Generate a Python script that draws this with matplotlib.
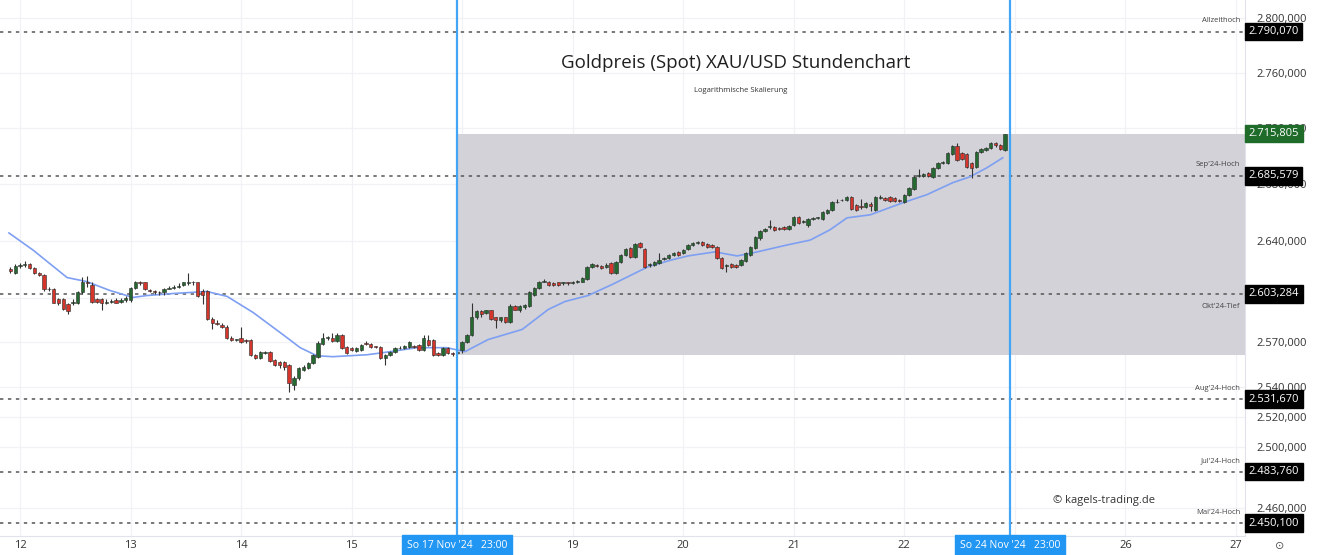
import numpy as np
import matplotlib.pyplot as plt
import matplotlib.transforms as mtransforms

plt.rcParams['font.family'] = ['Open Sans', 'DejaVu Sans']

# -----------------------------
# DATA (hourly candles, weekend collapsed, 23 bars per session)
# -----------------------------
opens = [
    2620.5, 2617.8, 2622.6, 2623.3, 2624.0, 2621.2, 2617.8, 2616.4, 2606.2, 2606.8,
    2599.3, 2599.3, 2595.9, 2596.6, 2597.2, 2604.1, 2611.0, 2609.6, 2599.3, 2599.3,
    2597.2, 2597.9, 2598.6, 2597.9, 2598.6, 2598.6, 2607.5, 2611.0, 2611.0, 2605.5,
    2604.8, 2604.4, 2604.1, 2606.8, 2607.5, 2608.2, 2609.6, 2610.3, 2611.0, 2611.0,
    2604.8, 2604.8, 2585.6, 2583.5, 2581.5, 2580.8, 2573.3, 2571.9, 2573.3, 2571.9,
    2571.9, 2561.6, 2559.6, 2563.0, 2563.7, 2558.2, 2556.8, 2556.8, 2554.8, 2541.1,
    2545.9, 2551.4, 2552.7, 2556.1, 2560.3, 2569.2, 2573.3, 2573.3, 2571.2, 2575.3,
    2567.1, 2566.4, 2564.4, 2565.1, 2569.2, 2569.2, 2567.1, 2567.1, 2559.6, 2561.6,
    2563.7, 2566.4, 2566.4, 2567.1, 2567.8, 2568.5, 2565.1, 2571.9, 2571.9, 2563.0,
    2561.6, 2566.4, 2562.6,
    # week 18.-22. Nov
    2563.0, 2565.1, 2570.5, 2575.3, 2587.0, 2591.1, 2589.7, 2591.8, 2587.0, 2584.9,
    2587.0, 2584.2, 2594.5, 2592.4, 2593.8, 2594.5, 2602.7, 2607.5, 2611.6, 2611.6,
    2610.3, 2611.0, 2610.3, 2611.0, 2610.6, 2611.0, 2611.6, 2613.7, 2621.9, 2623.3,
    2622.6, 2621.9, 2624.6, 2617.8, 2625.3, 2630.1, 2634.9, 2628.8, 2638.3, 2634.2,
    2623.3, 2623.3, 2624.6, 2627.4, 2628.1, 2630.1, 2632.2, 2631.5, 2634.2, 2637.0,
    2638.6, 2639.0, 2637.7, 2637.0, 2635.6, 2628.1, 2622.6, 2624.0, 2623.3, 2623.3,
    2626.0, 2630.1, 2634.9, 2641.8, 2646.8, 2649.6, 2649.6, 2648.9, 2649.6, 2648.2,
    2651.0, 2656.7, 2653.1, 2651.0, 2655.3, 2656.0, 2655.3, 2659.5, 2661.6, 2667.3,
    2668.4, 2668.7, 2670.8, 2665.2, 2664.5, 2663.8, 2665.9, 2661.6, 2670.1, 2670.1,
    2670.8, 2670.1, 2668.7, 2667.3, 2672.3, 2676.5, 2685.7, 2685.7, 2687.8, 2685.0,
    2691.4, 2694.9, 2694.9, 2701.3, 2707.0, 2702.0, 2701.3, 2694.9, 2692.1, 2702.7,
    2704.1, 2705.5, 2709.1, 2707.7, 2704.1,
]
highs = [
    2621.9, 2624.0, 2624.6, 2626.0, 2624.6, 2621.9, 2618.5, 2617.1, 2608.2, 2607.5,
    2600.0, 2600.0, 2596.6, 2599.3, 2604.8, 2615.1, 2615.7, 2611.0, 2600.0, 2600.0,
    2599.3, 2599.3, 2600.0, 2600.0, 2601.4, 2608.2, 2612.3, 2612.3, 2611.6, 2606.8,
    2605.5, 2604.8, 2607.5, 2608.9, 2609.6, 2610.3, 2611.6, 2617.8, 2612.3, 2611.6,
    2606.2, 2605.5, 2587.0, 2584.9, 2582.9, 2581.5, 2574.0, 2572.6, 2580.8, 2572.6,
    2572.6, 2562.3, 2564.4, 2564.4, 2564.4, 2558.9, 2557.5, 2557.5, 2555.5, 2547.2,
    2553.4, 2554.8, 2556.8, 2562.3, 2571.2, 2576.7, 2574.6, 2576.7, 2576.7, 2576.0,
    2567.8, 2567.1, 2567.1, 2569.2, 2571.2, 2569.9, 2567.8, 2567.8, 2562.3, 2564.4,
    2567.1, 2567.8, 2568.5, 2571.2, 2568.5, 2569.2, 2575.3, 2575.3, 2572.6, 2563.7,
    2567.1, 2567.1, 2563.3,
    # week 18.-22. Nov
    2565.1, 2571.2, 2576.0, 2597.2, 2592.4, 2592.4, 2592.4, 2592.4, 2587.6, 2587.6,
    2587.6, 2595.9, 2595.2, 2595.2, 2595.9, 2604.8, 2608.2, 2612.3, 2613.7, 2612.3,
    2611.0, 2611.6, 2611.6, 2611.6, 2612.3, 2613.0, 2615.1, 2622.6, 2624.6, 2624.0,
    2623.3, 2624.6, 2625.3, 2626.0, 2630.8, 2634.9, 2635.6, 2638.3, 2639.0, 2634.9,
    2624.6, 2626.0, 2631.5, 2628.8, 2630.8, 2632.2, 2632.9, 2634.2, 2637.7, 2639.0,
    2639.7, 2639.7, 2638.3, 2637.7, 2636.3, 2628.8, 2624.0, 2624.6, 2624.0, 2627.4,
    2632.2, 2636.3, 2643.2, 2647.5, 2648.9, 2654.6, 2650.3, 2649.6, 2650.3, 2651.0,
    2657.4, 2657.4, 2654.6, 2656.0, 2656.7, 2656.7, 2660.9, 2662.4, 2668.0, 2669.4,
    2669.4, 2671.6, 2671.6, 2665.9, 2669.4, 2667.3, 2667.3, 2671.6, 2672.3, 2670.8,
    2671.6, 2670.8, 2669.4, 2673.0, 2677.9, 2685.7, 2690.7, 2687.8, 2688.5, 2692.1,
    2695.6, 2696.3, 2702.7, 2707.7, 2709.1, 2702.7, 2702.0, 2695.6, 2703.4, 2705.5,
    2706.2, 2709.8, 2709.8, 2708.4, 2715.8,
]
lows = [
    2617.8, 2617.1, 2621.2, 2621.9, 2620.5, 2617.1, 2615.7, 2604.8, 2604.8, 2596.6,
    2595.2, 2591.8, 2589.0, 2595.2, 2595.9, 2603.4, 2608.2, 2596.6, 2596.6, 2592.4,
    2595.9, 2596.6, 2596.6, 2597.2, 2597.9, 2597.9, 2606.8, 2609.6, 2605.5, 2604.1,
    2603.4, 2602.7, 2602.7, 2606.2, 2606.8, 2607.5, 2608.9, 2609.6, 2609.6, 2600.7,
    2595.9, 2584.9, 2578.8, 2581.5, 2580.1, 2572.6, 2571.2, 2571.2, 2569.9, 2569.9,
    2560.9, 2558.9, 2558.9, 2562.3, 2556.8, 2554.1, 2552.7, 2551.4, 2536.3, 2537.7,
    2544.5, 2550.7, 2552.0, 2555.5, 2559.6, 2568.5, 2571.9, 2570.5, 2570.5, 2565.7,
    2562.3, 2564.4, 2563.7, 2564.4, 2568.5, 2566.4, 2566.4, 2558.9, 2554.8, 2560.9,
    2563.0, 2565.7, 2565.7, 2566.4, 2566.4, 2564.4, 2564.4, 2567.8, 2560.9, 2560.9,
    2560.9, 2562.3, 2560.9,
    # week 18.-22. Nov
    2561.6, 2563.0, 2569.9, 2574.6, 2585.6, 2587.6, 2589.0, 2584.9, 2580.1, 2584.2,
    2583.5, 2583.5, 2591.8, 2590.4, 2593.1, 2593.8, 2602.0, 2606.8, 2611.0, 2608.9,
    2608.9, 2608.9, 2609.6, 2609.6, 2610.0, 2610.3, 2611.0, 2613.0, 2621.2, 2621.9,
    2620.5, 2621.2, 2617.1, 2617.1, 2624.6, 2629.4, 2628.1, 2628.1, 2634.9, 2621.2,
    2621.9, 2622.6, 2624.0, 2626.7, 2627.4, 2629.4, 2629.4, 2630.8, 2633.5, 2636.3,
    2638.0, 2636.3, 2634.9, 2634.9, 2627.4, 2620.5, 2618.5, 2621.2, 2621.2, 2622.6,
    2625.3, 2629.4, 2634.2, 2640.4, 2646.1, 2648.2, 2646.8, 2647.5, 2647.5, 2647.5,
    2650.3, 2651.7, 2652.4, 2649.6, 2654.6, 2655.3, 2654.6, 2658.8, 2660.9, 2666.6,
    2668.0, 2668.0, 2661.6, 2660.9, 2662.4, 2663.1, 2660.9, 2660.9, 2669.4, 2668.0,
    2667.3, 2667.3, 2667.3, 2666.6, 2671.6, 2675.8, 2685.0, 2685.0, 2685.0, 2684.3,
    2690.7, 2694.2, 2694.2, 2700.6, 2696.3, 2697.0, 2691.4, 2684.3, 2691.4, 2702.0,
    2703.4, 2704.8, 2706.3, 2704.1, 2703.4,
]
closes = [
    2619.2, 2622.6, 2623.3, 2624.0, 2621.2, 2617.8, 2616.4, 2606.2, 2606.8, 2597.2,
    2597.2, 2593.1, 2591.1, 2597.9, 2604.1, 2611.0, 2610.3, 2597.9, 2597.9, 2597.2,
    2597.9, 2598.2, 2597.2, 2598.6, 2600.0, 2607.5, 2611.0, 2610.6, 2606.2, 2604.8,
    2604.4, 2604.1, 2606.8, 2607.5, 2608.2, 2608.9, 2611.0, 2611.0, 2611.3, 2601.4,
    2602.7, 2585.6, 2583.5, 2582.2, 2580.8, 2573.3, 2571.9, 2572.2, 2570.5, 2571.2,
    2561.6, 2559.6, 2563.7, 2563.7, 2557.5, 2554.8, 2554.8, 2553.4, 2542.5, 2545.9,
    2552.7, 2553.4, 2556.1, 2561.6, 2569.9, 2573.3, 2573.6, 2571.2, 2575.3, 2566.4,
    2563.0, 2565.1, 2566.4, 2568.5, 2568.9, 2567.1, 2566.8, 2559.6, 2561.6, 2563.7,
    2566.4, 2566.1, 2567.8, 2570.5, 2567.1, 2565.1, 2573.3, 2568.5, 2561.6, 2561.6,
    2566.4, 2563.0, 2561.9,
    # week 18.-22. Nov
    2563.7, 2570.5, 2575.3, 2587.0, 2591.1, 2589.0, 2591.8, 2585.6, 2584.9, 2587.0,
    2584.2, 2594.5, 2592.4, 2594.5, 2595.2, 2604.1, 2607.5, 2611.6, 2612.3, 2609.6,
    2609.6, 2609.6, 2611.0, 2610.6, 2611.6, 2612.3, 2614.4, 2621.9, 2624.0, 2622.6,
    2621.2, 2623.3, 2617.8, 2625.3, 2630.1, 2634.2, 2628.8, 2637.7, 2635.6, 2621.9,
    2624.0, 2625.3, 2626.7, 2628.1, 2630.1, 2631.5, 2630.1, 2633.5, 2637.0, 2638.3,
    2639.0, 2637.0, 2635.6, 2635.6, 2628.1, 2621.2, 2623.3, 2621.9, 2621.9, 2626.7,
    2631.5, 2635.6, 2642.5, 2646.8, 2648.2, 2649.9, 2647.5, 2648.2, 2648.2, 2650.3,
    2656.7, 2652.4, 2653.4, 2655.3, 2656.0, 2656.3, 2660.2, 2661.6, 2667.3, 2667.0,
    2668.7, 2670.8, 2662.4, 2661.6, 2663.8, 2666.6, 2664.5, 2670.8, 2670.4, 2668.7,
    2668.0, 2668.0, 2668.0, 2672.3, 2677.2, 2685.0, 2686.4, 2687.1, 2685.7, 2691.4,
    2694.9, 2695.6, 2702.0, 2707.0, 2697.0, 2697.7, 2692.1, 2691.4, 2702.7, 2704.8,
    2705.5, 2709.1, 2707.7, 2704.8, 2715.8,
]

# moving average (bar position, price)
ma_bar = [-2.3, 2.7, 9.8, 13.9, 18.7, 23.5, 26.4, 31.8, 38.9, 43.1, 48.5, 54.7,
          58.3, 61.8, 65.1, 72.2, 75.5, 82.6, 88.8, 92.6, 97.4, 104.5, 109.9,
          113.4, 118.2, 123.2, 130.7, 135.7, 139.0, 144.6, 149.2, 152.5, 159.6,
          164.4, 168.5, 172.1, 176.9, 183.7, 188.7, 194.1, 197.7, 201.2, 204.5]
ma_val = [2645.4, 2633.5, 2614.4, 2611.6, 2605.5, 2600.7, 2602.0, 2603.4, 2604.8,
          2601.4, 2590.4, 2575.3, 2566.4, 2560.9, 2560.3, 2561.6, 2563.0, 2566.4,
          2566.4, 2563.7, 2571.9, 2578.8, 2592.4, 2597.9, 2602.0, 2609.6, 2621.9,
          2626.7, 2629.4, 2632.2, 2629.4, 2631.5, 2637.0, 2640.4, 2647.5, 2656.0,
          2658.1, 2666.6, 2672.3, 2680.8, 2685.0, 2691.4, 2698.5]

day_labels = ['12', '13', '14', '15', '18', '19', '20', '21', '22', '25', '26', '27']
bars_per_day = 23
first_bar = -2
week_start = 91     # So 17 Nov '24 23:00
next_week = 206     # So 24 Nov '24 23:00

grid_prices = [2460, 2500, 2520, 2540, 2570, 2600, 2640, 2680, 2720, 2760, 2800]
label_prices = [2460, 2500, 2520, 2540, 2570, 2640, 2680, 2720, 2760, 2800]
level_values = [2790.070, 2685.579, 2603.284, 2531.670, 2483.760, 2450.100]
level_names = ['Allzeithoch', "Sep'24-Hoch", "Okt'24-Tief", "Aug'24-Hoch",
               "Jul'24-Hoch", "Mai'24-Hoch"]
last_price = 2715.805


def de_fmt(v):
    s = f"{v:,.3f}"
    return s.replace(',', '#').replace('.', ',').replace('#', '.')


# -----------------------------
# FIGURE
# -----------------------------
fig = plt.figure(figsize=(13.18, 5.55), dpi=100)
ax = fig.add_axes([0.0, 0.034, 0.9446, 0.966])
ax.set_yscale('log')
ax.set_ylim(2441.7, 2813.4)
ax.set_xlim(-4.16, 254.9)

day_pos = np.arange(len(day_labels)) * bars_per_day
for p in day_pos:
    ax.axvline(p, color='#f1f2f5', lw=0.9, zorder=0)
for v in grid_prices:
    ax.axhline(v, color='#f1f2f5', lw=0.9, zorder=0)

# weekly range box
wk_lows = lows[week_start - first_bar:]
wk_highs = highs[week_start - first_bar:]
ax.fill_between([week_start, 254.9], min(wk_lows), max(wk_highs),
                color='#d2d2d8', lw=0, zorder=0.5)

# key levels
for v in level_values:
    ax.axhline(v, color='#555555', ls=(0, (2.2, 3)), lw=1.1, zorder=1)

# moving average
ax.plot(ma_bar, ma_val, color='#7e9ff2', lw=1.2, zorder=2)

# candles
for i in range(len(opens)):
    x = first_bar + i
    o, h, l, c = opens[i], highs[i], lows[i], closes[i]
    col = '#24692f' if c >= o else '#d6352b'
    ax.vlines(x, l, h, color='#333333', lw=0.8, zorder=3)
    ax.bar(x, max(abs(c - o), 0.4), bottom=min(o, c), width=0.7,
           color=col, edgecolor='#2a2a2a', linewidth=0.4, zorder=4)

# vertical session markers
for b in (week_start, next_week):
    ax.axvline(b, color='#42a5f5', lw=1.6, zorder=5)

# axes styling
for s in ('top', 'left'):
    ax.spines[s].set_visible(False)
ax.spines['right'].set_color('#e0e3eb')
ax.spines['bottom'].set_color('#e0e3eb')

ax.yaxis.tick_right()
ax.set_yticks(label_prices)
ax.set_yticklabels([de_fmt(v) for v in label_prices])
ax.yaxis.set_minor_locator(plt.NullLocator())
ax.tick_params(axis='y', length=0, pad=8, labelsize=8, labelcolor='#333333')

ax.set_xticks(day_pos)
ax.set_xticklabels(['' if d in ('18', '25') else d for d in day_labels])
ax.tick_params(axis='x', length=0, pad=3, labelsize=8, labelcolor='#333333')

ytrans = mtransforms.blended_transform_factory(ax.transAxes, ax.transData)
xtrans = mtransforms.blended_transform_factory(ax.transData, ax.transAxes)

# level labels
for v, name in zip(level_values, level_names):
    ax.text(1.003, v, de_fmt(v), transform=ytrans, ha='left', va='center',
            fontsize=8, color='white', clip_on=False, zorder=10,
            bbox=dict(boxstyle='square,pad=0.3', fc='black', ec='black'))
    dy = -9 if 'Tief' in name else 8
    ax.annotate(name, xy=(0.996, v), xycoords=ytrans, xytext=(0, dy),
                textcoords='offset points', ha='right', va='center',
                fontsize=5.5, color='#444444', zorder=10)

ax.text(1.003, last_price, de_fmt(last_price), transform=ytrans, ha='left',
        va='center', fontsize=8, color='white', clip_on=False, zorder=10,
        bbox=dict(boxstyle='square,pad=0.3', fc='#1e6b2a', ec='#1e6b2a'))

# session labels under the x axis
for b, txt in ((week_start, "So 17 Nov '24   23:00"), (next_week, "So 24 Nov '24   23:00")):
    ax.text(b, -0.017, txt, transform=xtrans, ha='center', va='center',
            fontsize=7.5, color='white', clip_on=False, zorder=10,
            bbox=dict(boxstyle='square,pad=0.45', fc='#2196f3', ec='#2196f3'))

fig.text(736 / 1318, 1 - 63 / 555, 'Goldpreis (Spot) XAU/USD Stundenchart',
         ha='center', va='center', fontsize=13.5, color='#1f1f1f')
fig.text(741 / 1318, 1 - 91 / 555, 'Logarithmische Skalierung',
         ha='center', va='center', fontsize=5.5, color='#333333')
fig.text(1104 / 1318, 1 - 500 / 555, '© kagels-trading.de',
         ha='center', va='center', fontsize=8, color='#333333')
fig.text(1280 / 1318, 1 - 546 / 555, '⊙', ha='center', va='center',
         fontsize=8, color='#555555', family='DejaVu Sans')

fig.savefig('out.png', dpi=100)
